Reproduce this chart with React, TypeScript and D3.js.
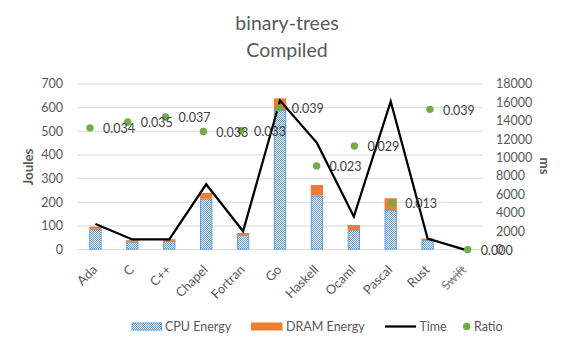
import React from 'react';
import * as d3 from 'd3';

const categories = ['Ada', 'C', 'C++', 'Chapel', 'Fortran', 'Go', 'Haskell', 'Ocaml', 'Pascal', 'Rust', 'Swift'];
const cpuEnergy = [86, 33, 36, 215, 61, 590, 228, 82, 167, 40, 0];
const dramEnergy = [11, 7, 8, 25, 9, 49, 45, 22, 50, 7, 0];
const timeMs = [2780, 1100, 1100, 7100, 2000, 16200, 11600, 3600, 16100, 1200, 0];
const ratio = [0.0336, 0.0352, 0.0366, 0.0326, 0.0328, 0.0391, 0.0231, 0.0286, 0.0129, 0.0387, 0];
const joulesTicks = [0, 100, 200, 300, 400, 500, 600, 700];
const msTicks = [0, 2000, 4000, 6000, 8000, 10000, 12000, 14000, 16000, 18000];
const struckCategories = ['Swift'];
const titleLines = ['binary-trees', 'Compiled'];

const W = 575;
const H = 348;
const plotLeft = 77;
const plotRight = 483;
const plotTop = 84;
const plotBottom = 249.6;
const FONT = 'Lato, "Liberation Sans", sans-serif';
const TXT = '#595959';

export default function App() {
  const x = d3.scaleBand<string>().domain(categories).range([plotLeft, plotRight]).paddingInner(0).paddingOuter(0);
  const xr = d3.scalePoint<string>().domain(categories).range([90, 467.7]);
  const yJ = d3.scaleLinear().domain([0, 700]).range([plotBottom, plotTop]);
  const yMs = d3.scaleLinear().domain([0, 18000]).range([plotBottom, plotTop]);
  const yR = d3.scaleLinear().domain([0, 0.0457]).range([plotBottom, plotTop]);
  const bw = x.bandwidth() / 3;
  const cx = (c: string) => (x(c) as number) + x.bandwidth() / 2;

  const line = d3
    .line<number>()
    .x((_, i) => cx(categories[i]))
    .y((d) => yMs(d));

  return (
    <svg width={W} height={H} style={{ position: 'absolute', left: 0, top: 0, background: '#fff' }} fontFamily={FONT}>
      <defs>
        <pattern id="cpuPat" width="2" height="2" patternUnits="userSpaceOnUse">
          <rect width="2" height="2" fill="#ffffff" />
          <rect x="0" y="0" width="1" height="1" fill="#5B9BD5" />
          <rect x="1" y="1" width="1" height="1" fill="#5B9BD5" />
        </pattern>
      </defs>
      <rect width={W} height={H} fill="#fff" />
      {/* Title */}
      {titleLines.map((t, i) => (
        <text key={t} x={287} y={29.5 + i * 27.5} textAnchor="middle" fontSize={19.5} fill={TXT}>
          {t}
        </text>
      ))}
      {/* Gridlines */}
      {joulesTicks.map((t) => (
        <line key={t} x1={plotLeft} x2={plotRight} y1={yJ(t)} y2={yJ(t)} stroke="#d9d9d9" strokeWidth={1} />
      ))}
      {/* Left tick labels */}
      {joulesTicks.map((t) => (
        <text key={t} x={63} y={yJ(t)} dy="0.35em" textAnchor="end" fontSize={12.5} fill={TXT}>
          {t}
        </text>
      ))}
      {/* Right tick labels */}
      {msTicks.map((t) => (
        <text key={t} x={496} y={yMs(t)} dy="0.35em" textAnchor="start" fontSize={12.5} fill={TXT}>
          {t}
        </text>
      ))}
      {/* Axis titles */}
      <text transform={`translate(28,167) rotate(-90)`} textAnchor="middle" dy="0.35em" fontSize={13.3} fontWeight="bold" fill={TXT}>
        Joules
      </text>
      <text transform={`translate(545,166) rotate(90)`} textAnchor="middle" dy="0.35em" fontSize={13.3} fontWeight="bold" fill={TXT}>
        ms
      </text>
      {/* Bars */}
      {categories.map((c, i) => (
        <g key={c}>
          {cpuEnergy[i] > 0 && (
            <rect
              x={cx(c) - bw / 2 + 0.5}
              y={yJ(cpuEnergy[i]) + 0.5}
              width={bw - 1}
              height={yJ(0) - yJ(cpuEnergy[i]) - 1}
              fill="url(#cpuPat)"
              stroke="#5B9BD5"
              strokeWidth={1}
            />
          )}
          {dramEnergy[i] > 0 && (
            <rect
              x={cx(c) - bw / 2}
              y={yJ(cpuEnergy[i] + dramEnergy[i])}
              width={bw}
              height={yJ(cpuEnergy[i]) - yJ(cpuEnergy[i] + dramEnergy[i])}
              fill="#ED7D31"
            />
          )}
        </g>
      ))}
      {/* Time line */}
      <path d={line(timeMs) || ''} fill="none" stroke="#000" strokeWidth={2.25} strokeLinejoin="miter" />
      {/* Ratio dots */}
      {categories.map((c, i) => (
        <circle key={c} cx={xr(c) as number} cy={yR(ratio[i])} r={3.7} fill="#70AD47" />
      ))}
      {/* Ratio labels */}
      {categories.map((c, i) => (
        <text key={c} x={(xr(c) as number) + 13} y={yR(ratio[i]) + 1} dy="0.35em" fontSize={12.5} fill="#404040">
          {ratio[i].toFixed(3)}
        </text>
      ))}
      {/* X labels */}
      {categories.map((c) => (
        <text
          key={c}
          transform={`translate(${cx(c) + 2.5},${270.5}) rotate(-45)`}
          textAnchor="end"
          fontSize={12.8}
          fill={struckCategories.includes(c) ? '#8c8c8c' : TXT}
          style={struckCategories.includes(c) ? { textDecoration: 'line-through' } : undefined}
        >
          {c}
        </text>
      ))}
      {/* Legend */}
      <g fontSize={12.5} fill={TXT}>
        <rect x={132} y={323} width={29.5} height={7} fill="url(#cpuPat)" stroke="#5B9BD5" strokeWidth={1} />
        <text x={165} y={327} dy="0.35em">CPU Energy</text>
        <rect x={251} y={322.5} width={31.5} height={8} fill="#ED7D31" />
        <text x={286} y={327} dy="0.35em">DRAM Energy</text>
        <line x1={385} x2={416} y1={326.5} y2={326.5} stroke="#000" strokeWidth={2.25} />
        <text x={419.5} y={327} dy="0.35em">Time</text>
        <circle cx={466.7} cy={326.5} r={3.7} fill="#70AD47" />
        <text x={474} y={327} dy="0.35em">Ratio</text>
      </g>
    </svg>
  );
}
